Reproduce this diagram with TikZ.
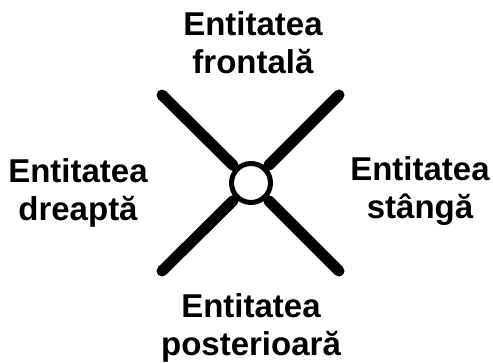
\documentclass[tikz,border=0pt]{standalone}
\usepackage{fontspec}
\setmainfont{Liberation Sans}
\usetikzlibrary{positioning}

\begin{document}
\begin{tikzpicture}[x=1pt,y=-1pt,
        bar/.style={line width=11pt,line cap=round},
        lbl/.style={font=\bfseries\fontsize{33}{38}\selectfont,align=center,inner sep=0pt}]
            \useasboundingbox (0,0) rectangle (493,362);

            \node[circle,draw,line width=5pt,fill=white,minimum size=39pt,inner sep=0pt,outer sep=5.5pt] (hub) at (251,183) {};
            \coordinate (tl) at (162,95);
            \coordinate (tr) at (339,95);
            \coordinate (bl) at (162,271);
            \coordinate (br) at (339,271);

            \draw[bar] (tl) -- (hub);
            \draw[bar] (tr) -- (hub);
            \draw[bar] (bl) -- (hub);
            \draw[bar] (br) -- (hub);

            \node[lbl,anchor=base] (front) at (253,73) {Entitatea\\frontală};
            \node[lbl,anchor=base] (right) at (78,220) {Entitatea\\dreaptă};
            \node[lbl,anchor=base] (left) at (420,218) {Entitatea\\stângă};
            \node[lbl,anchor=base] (back) at (251,355) {Entitatea\\posterioară};
        \end{tikzpicture}
\end{document}
